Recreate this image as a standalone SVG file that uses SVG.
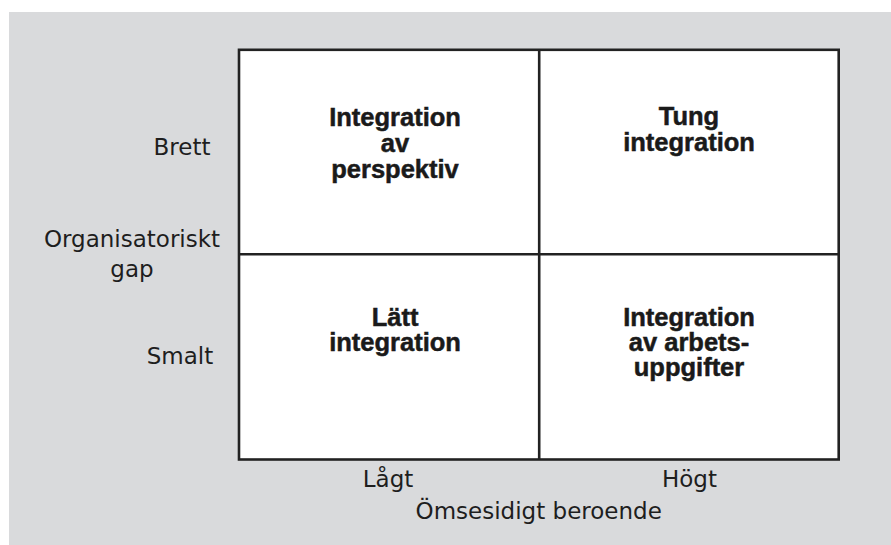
<svg xmlns="http://www.w3.org/2000/svg" width="891" height="545" viewBox="0 0 891 545">
  <style>
    .frame { fill: #ffffff; stroke: #222222; stroke-width: 2.6; }
    .divider { stroke: #222222; stroke-width: 2.6; fill: none; }
    .cell { font-family: "Liberation Sans", Arial, sans-serif; font-weight: bold; font-size: 25.5px; fill: #1a1a1a; stroke: #1a1a1a; stroke-width: 0.5; text-anchor: middle; }
    .axis { font-family: "DejaVu Sans", "Liberation Sans", sans-serif; font-size: 23px; fill: #1e1e1e; text-anchor: middle; }
  </style>

  <!-- backdrop panel -->
  <rect x="9" y="12" width="882" height="533" fill="#d9dadc"/>

  <!-- matrix frame -->
  <rect class="frame" x="239" y="49.8" width="599.7" height="409.7"/>

  <!-- quadrant dividers -->
  <g id="dividers">
    <line class="divider" x1="539.2" y1="49.8" x2="539.2" y2="459.5"/>
    <line class="divider" x1="239" y1="254.2" x2="838.7" y2="254.2"/>
  </g>

  <!-- quadrants -->
  <g id="q-top-left">
    <text class="cell" x="395" y="126">Integration</text>
    <text class="cell" x="395" y="152">av</text>
    <text class="cell" x="395" y="178">perspektiv</text>
  </g>
  <g id="q-top-right">
    <text class="cell" x="689" y="125">Tung</text>
    <text class="cell" x="689" y="151">integration</text>
  </g>
  <g id="q-bottom-left">
    <text class="cell" x="395" y="325.5">Lätt</text>
    <text class="cell" x="395" y="350.5">integration</text>
  </g>
  <g id="q-bottom-right">
    <text class="cell" x="689" y="325.5">Integration</text>
    <text class="cell" x="689" y="351">av arbets-</text>
    <text class="cell" x="689" y="376">uppgifter</text>
  </g>

  <!-- vertical axis -->
  <g id="axis-y">
    <text class="axis" x="182" y="155">Brett</text>
    <text class="axis" x="132" y="247">Organisatoriskt</text>
    <text class="axis" x="132" y="277">gap</text>
    <text class="axis" x="180" y="364">Smalt</text>
  </g>

  <!-- horizontal axis -->
  <g id="axis-x">
    <text class="axis" x="388" y="486.5">Lågt</text>
    <text class="axis" x="689.5" y="486.5">Högt</text>
    <text class="axis" x="538.7" y="519.3">Ömsesidigt beroende</text>
  </g>
</svg>
